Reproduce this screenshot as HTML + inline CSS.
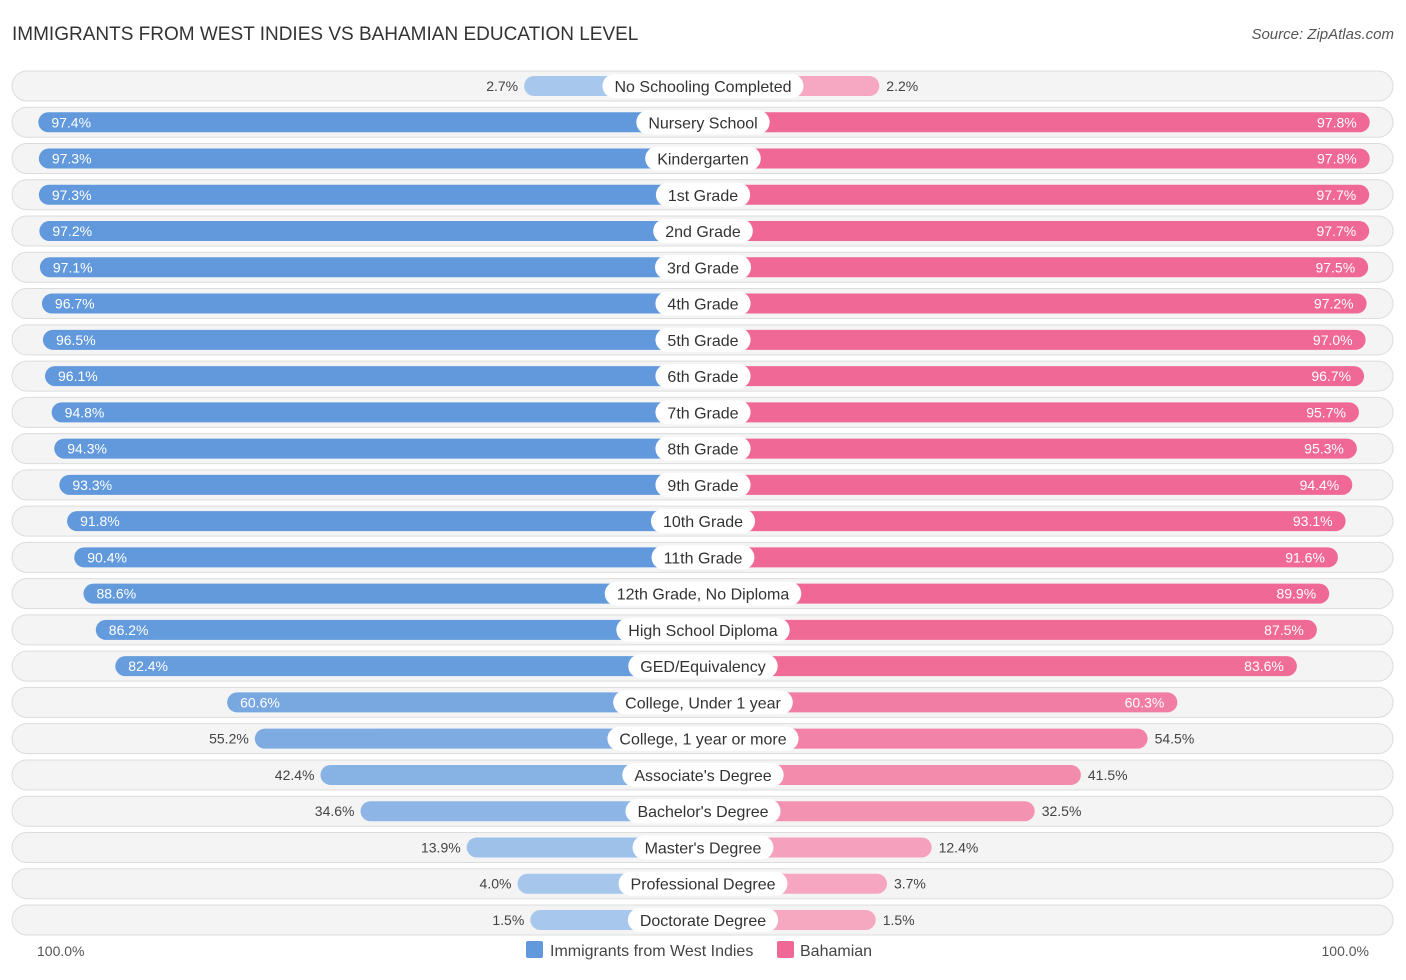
<!DOCTYPE html>
<html><head><meta charset="utf-8"><style>
body{margin:0;background:#fff;font-family:"Liberation Sans",sans-serif;}
svg text{font-family:"Liberation Sans",sans-serif;}
</style></head><body>
<svg width="1406" height="975" id="c">
<text x="12" y="40" font-size="19" fill="#333">IMMIGRANTS FROM WEST INDIES VS BAHAMIAN EDUCATION LEVEL</text>
<text x="1394" y="39" font-size="15" font-style="italic" fill="#555" text-anchor="end">Source: ZipAtlas.com</text>
<g id="rows"></g>
<text x="37" y="956" font-size="14" fill="#555">100.0%</text>
<text x="1369" y="956" font-size="14" fill="#555" text-anchor="end">100.0%</text>
<g>
<rect x="526" y="941" width="17" height="17" rx="2" fill="#6199dc"/>
<text x="550" y="956" font-size="16" fill="#444">Immigrants from West Indies</text>
<rect x="777" y="941" width="17" height="17" rx="2" fill="#f06895"/>
<text x="800" y="956" font-size="16" fill="#444">Bahamian</text>
</g>
</svg>
<script>
const categories=["No Schooling Completed","Nursery School","Kindergarten","1st Grade","2nd Grade","3rd Grade","4th Grade","5th Grade","6th Grade","7th Grade","8th Grade","9th Grade","10th Grade","11th Grade","12th Grade, No Diploma","High School Diploma","GED/Equivalency","College, Under 1 year","College, 1 year or more","Associate's Degree","Bachelor's Degree","Master's Degree","Professional Degree","Doctorate Degree"];
const westIndies=[2.7,97.4,97.3,97.3,97.2,97.1,96.7,96.5,96.1,94.8,94.3,93.3,91.8,90.4,88.6,86.2,82.4,60.6,55.2,42.4,34.6,13.9,4.0,1.5];
const bahamian=[2.2,97.8,97.8,97.7,97.7,97.5,97.2,97.0,96.7,95.7,95.3,94.4,93.1,91.6,89.9,87.5,83.6,60.3,54.5,41.5,32.5,12.4,3.7,1.5];
const NS="http://www.w3.org/2000/svg";
const g=document.getElementById('rows');
const cx=703,y0=86,dy=36.26;
function len(v){return 165+5.13*v;}
function mix(a,b,t){return 'rgb('+a.map((x,i)=>Math.round(x+(b[i]-x)*t)).join(',')+')';}
const bL=[169,200,236],bS=[97,153,220],pL=[246,169,194],pS=[240,104,149];
function el(tag,attrs,parent){const e=document.createElementNS(NS,tag);for(const k in attrs)e.setAttribute(k,attrs[k]);(parent||g).appendChild(e);return e;}
categories.forEach((cat,i)=>{
  const y=y0+i*dy;
  const row=el('g',{});
  
  
  const bg=el('rect',{x:12,y:y-15,width:1381,height:30,rx:15,fill:'#f4f4f4',stroke:'#dcdcdc'},row);
  
  
  const w=westIndies[i],b=bahamian[i];
  const lw=len(w),lb=len(b);
  const bl=el('rect',{x:cx-lw,y:y-10,width:lw,height:20,rx:10,fill:mix(bL,bS,Math.min(1,w/90))},row);
  
  
  const br=el('rect',{x:cx,y:y-10,width:lb,height:20,rx:10,fill:mix(pL,pS,Math.min(1,b/90))},row);
  
  
  const inside=w>58;
  const tl=el('text',{x:inside?cx-lw+13:cx-lw-6,y:y+5,'font-size':14,fill:inside?'#fff':'#444','text-anchor':inside?'start':'end'},row);
  tl.textContent=w.toFixed(1)+'%';
  
  
  const insideB=b>58;
  const tr=el('text',{x:insideB?cx+lb-13:cx+lb+7,y:y+5,'font-size':14,fill:insideB?'#fff':'#444','text-anchor':insideB?'end':'start'},row);
  tr.textContent=b.toFixed(1)+'%';
  
  
  const t=el('text',{x:cx,y:y+6,'font-size':16,fill:'#333','text-anchor':'middle'},row);
  t.textContent=cat;
  const tw=t.getComputedTextLength()+24;
  const pill=el('rect',{x:cx-tw/2,y:y-12,width:tw,height:24,rx:12,fill:'#fff'},row);
  
  
  row.appendChild(t);
  
  
});
</script>
</body></html>
